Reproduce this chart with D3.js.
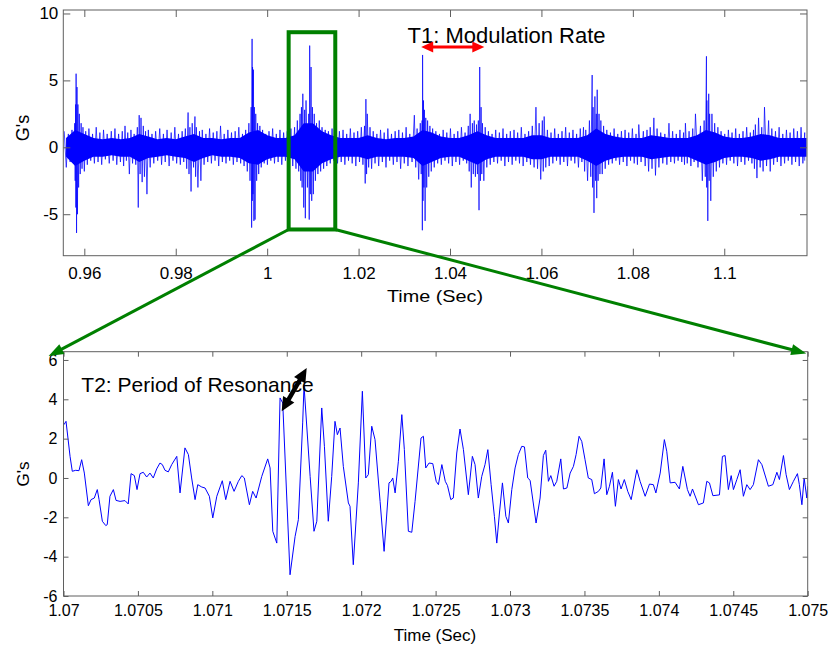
<!DOCTYPE html>
<html>
<head>
<meta charset="utf-8">
<script src="https://cdn.jsdelivr.net/npm/d3@7"></script>
<style>
  body { margin: 0; background: #fff; }
  text { font-family: "Liberation Sans", Arial, Helvetica, sans-serif; fill: #000; }
</style>
</head>
<body>
<svg id="chart" width="832" height="654"></svg>
<script>
// ---------- top panel: overview signal (0.955 .. 1.118 s) ----------
var topXTicks = [0.96, 0.98, 1.0, 1.02, 1.04, 1.06, 1.08, 1.1];
var topXLabels = ["0.96", "0.98", "1", "1.02", "1.04", "1.06", "1.08", "1.1"];
var topYTicks = [-5, 0, 5, 10];
var topYLabels = ["-5", "0", "5", "10"];

// dense core of the trace, read every 2 ms starting at 0.956 s
var coreStart = 0.956, coreStep = 0.002;
var coreHi = [0.7,1.3,1.0,0.7,0.6,0.7,0.6,0.7,1.0,0.8,
  0.6,0.7,0.6,0.8,1.0,0.7,0.7,0.6,0.7,0.7,
  1.1,1.3,0.9,0.7,0.7,0.9,1.8,1.8,1.2,0.9,
  0.7,0.7,0.7,0.9,0.7,0.6,0.7,0.7,0.8,1.3,
  1.1,0.8,0.7,0.7,0.9,1.2,0.9,0.7,0.7,0.7,
  0.7,0.9,0.9,0.7,0.7,0.7,0.7,0.9,1.4,1.0,
  0.8,0.7,0.7,0.7,0.9,0.8,0.7,0.7,0.7,0.9,
  1.3,1.1,0.8,0.7,0.7,0.8,1.0,0.9,0.7,0.7,
  0.7,0.7];
var coreLo = [-0.7,-1.4,-1.0,-0.7,-0.7,-0.6,-0.7,-0.7,-1.1,-0.8,
  -0.7,-0.6,-0.7,-0.8,-1.1,-0.8,-0.6,-0.7,-0.7,-0.8,
  -1.2,-1.3,-0.9,-0.7,-0.7,-0.9,-1.8,-1.8,-1.2,-0.9,
  -0.7,-0.7,-0.7,-0.9,-0.7,-0.7,-0.7,-0.7,-0.8,-1.4,
  -1.1,-0.8,-0.7,-0.7,-1.0,-1.3,-0.9,-0.7,-0.7,-0.7,
  -0.7,-0.9,-0.9,-0.7,-0.7,-0.7,-0.7,-1.0,-1.4,-1.0,
  -0.8,-0.7,-0.7,-0.7,-0.9,-0.8,-0.7,-0.7,-0.7,-1.0,
  -1.3,-1.1,-0.8,-0.7,-0.7,-0.8,-1.0,-0.9,-0.7,-0.7,
  -0.7,-0.7];

// individual excursions (time, positive tip, negative tip)
var needleT = [0.9556,0.9565,0.9573,0.9579,0.9581,0.9582,0.9584,0.9586,0.9589,0.9593,
  0.9597,0.9603,0.9610,0.9618,0.9626,0.9634,0.9642,0.9650,0.9659,0.9667,
  0.9675,0.9683,0.9689,0.9695,0.9702,0.9709,0.9716,0.9720,0.9724,0.9729,
  0.9734,0.9740,0.9748,0.9756,0.9765,0.9773,0.9781,0.9790,0.9798,0.9806,
  0.9814,0.9821,0.9827,0.9831,0.9836,0.9842,0.9845,0.9852,0.9858,0.9866,
  0.9874,0.9882,0.9890,0.9898,0.9906,0.9914,0.9922,0.9930,0.9938,0.9946,
  0.9953,0.9960,0.9965,0.9967,0.9968,0.9970,0.9972,0.9975,0.9979,0.9984,
  0.9990,0.9997,1.0004,1.0012,1.0020,1.0028,1.0036,1.0044,1.0052,1.0060,
  1.0066,1.0072,1.0075,1.0078,1.0082,1.0085,1.0091,1.0093,1.0096,1.0099,
  1.0103,1.0108,1.0114,1.0120,1.0127,1.0134,1.0142,1.0150,1.0158,1.0166,
  1.0174,1.0182,1.0190,1.0198,1.0206,1.0213,1.0216,1.0219,1.0225,1.0232,
  1.0240,1.0248,1.0256,1.0264,1.0272,1.0280,1.0288,1.0296,1.0304,1.0312,
  1.0322,1.0328,1.0335,1.0339,1.0340,1.0342,1.0344,1.0347,1.0351,1.0356,
  1.0362,1.0369,1.0377,1.0385,1.0393,1.0401,1.0409,1.0417,1.0425,1.0433,
  1.0440,1.0444,1.0449,1.0453,1.0458,1.0462,1.0465,1.0468,1.0471,1.0477,
  1.0484,1.0492,1.0500,1.0508,1.0516,1.0524,1.0532,1.0540,1.0548,1.0556,
  1.0564,1.0572,1.0580,1.0588,1.0595,1.0602,1.0606,1.0613,1.0621,1.0629,
  1.0637,1.0645,1.0653,1.0661,1.0669,1.0677,1.0685,1.0692,1.0697,1.0705,
  1.0711,1.0713,1.0717,1.0720,1.0722,1.0726,1.0730,1.0736,1.0743,1.0751,
  1.0759,1.0767,1.0775,1.0783,1.0791,1.0799,1.0807,1.0813,1.0823,1.0831,
  1.0838,1.0846,1.0853,1.0861,1.0870,1.0879,1.0887,1.0895,1.0903,1.0911,
  1.0915,1.0923,1.0931,1.0937,1.0948,1.0956,1.0961,1.0962,1.0966,1.0968,
  1.0973,1.0979,1.0986,1.0993,1.1001,1.1009,1.1017,1.1025,1.1033,1.1041,
  1.1049,1.1057,1.1064,1.1068,1.1075,1.1082,1.1088,1.1097,1.1104,1.1112,
  1.1120,1.1128,1.1136,1.1144,1.1152,1.1160,1.1168,1.1176];
var needleHi = [1.2,1.0,1.3,1.8,3.2,5.5,4.5,3.2,2.5,1.8,
  1.5,1.2,1.4,1.0,1.5,1.1,1.3,1.0,1.2,1.4,
  1.0,1.2,1.6,1.1,1.3,1.0,1.5,2.4,2.2,1.6,
  1.2,1.3,1.0,1.2,1.4,1.0,1.3,1.1,1.5,1.0,
  1.2,1.4,2.6,1.5,1.8,2.3,1.5,1.2,1.3,1.0,
  1.4,1.1,1.2,1.6,1.0,1.3,1.1,1.2,1.5,1.0,
  1.3,1.8,3.0,8.1,6.0,5.8,3.0,2.5,1.8,1.6,
  1.3,1.0,1.2,1.4,1.0,1.3,1.1,1.2,1.4,1.5,
  2.0,2.5,3.0,4.0,2.8,3.5,2.5,7.6,6.0,3.0,
  2.5,1.8,2.0,1.5,1.3,1.2,1.4,1.0,1.2,1.3,
  1.0,1.4,1.1,1.2,1.5,1.6,3.6,2.5,1.5,1.2,
  1.0,1.3,1.1,1.4,1.0,1.2,1.3,1.1,1.5,1.0,
  2.4,1.4,1.8,2.0,6.9,3.5,2.8,2.2,2.0,1.6,
  1.4,1.2,1.0,1.3,1.1,1.4,1.0,1.2,1.5,1.1,
  1.6,2.5,1.8,2.0,1.7,2.0,6.0,3.0,1.8,1.5,
  1.2,1.0,1.3,1.1,1.4,1.0,1.2,1.3,1.1,1.5,
  1.0,1.2,1.6,3.0,1.8,2.0,2.3,1.3,1.1,1.4,
  1.0,1.2,1.5,1.1,1.3,1.0,1.4,1.5,1.3,2.0,
  5.4,3.0,3.8,2.5,4.3,2.5,2.0,1.6,1.3,1.1,
  1.4,1.0,1.2,1.3,1.1,1.4,1.0,1.7,1.2,1.3,
  1.5,2.2,1.4,1.1,1.0,1.8,1.2,1.0,1.3,1.1,
  1.8,1.2,1.4,2.5,1.6,2.0,6.8,3.5,4.0,2.5,
  2.5,1.8,1.5,1.2,1.0,1.3,1.1,1.4,1.0,1.2,
  1.5,1.1,1.3,1.7,2.2,1.5,3.0,2.0,1.4,1.2,
  1.5,1.0,1.3,1.1,1.4,1.2,1.5,1.1];
var needleLo = [-1.5,-1.1,-1.0,-2.5,-4.5,-6.4,-5.0,-3.0,-2.0,-1.6,
  -1.8,-1.3,-1.0,-1.2,-1.1,-1.3,-0.9,-1.2,-1.0,-1.3,
  -1.1,-1.4,-1.0,-2.0,-1.2,-1.3,-4.5,-2.0,-2.6,-2.2,
  -3.5,-1.5,-1.2,-1.0,-1.3,-1.1,-1.4,-1.0,-1.2,-1.3,
  -1.1,-1.6,-2.0,-3.3,-1.5,-2.2,-3.0,-2.5,-1.3,-1.1,
  -1.2,-1.0,-1.4,-1.1,-1.2,-1.0,-1.3,-1.1,-1.2,-1.4,
  -1.8,-2.5,-6.0,-4.0,-3.5,-5.5,-5.4,-2.5,-2.0,-1.5,
  -1.2,-1.3,-1.0,-1.2,-1.1,-1.3,-1.0,-1.2,-1.4,-1.6,
  -1.8,-2.5,-3.0,-4.5,-5.3,-3.0,-5.4,-3.5,-4.0,-3.5,
  -2.5,-2.0,-1.8,-1.6,-1.4,-1.2,-1.0,-1.2,-1.1,-1.3,
  -1.0,-1.2,-1.4,-1.1,-1.3,-2.7,-2.0,-1.5,-1.6,-1.2,
  -1.4,-1.1,-1.5,-1.0,-1.3,-1.1,-1.6,-1.2,-1.4,-1.1,
  -1.5,-2.4,-2.0,-6.2,-4.0,-3.0,-5.5,-3.0,-2.2,-1.8,
  -1.5,-1.2,-1.3,-1.0,-1.2,-1.4,-1.1,-1.3,-1.0,-1.2,
  -1.8,-3.0,-2.0,-2.2,-2.0,-4.7,-2.5,-2.0,-2.5,-1.5,
  -1.3,-1.1,-1.2,-1.0,-1.4,-1.1,-1.3,-1.0,-1.2,-1.4,
  -1.1,-1.3,-1.5,-1.6,-2.4,-1.8,-1.5,-1.4,-1.2,-1.0,
  -1.3,-1.1,-1.4,-1.0,-1.2,-1.5,-1.1,-1.8,-2.5,-2.2,
  -3.0,-4.9,-2.5,-3.8,-2.5,-2.0,-2.0,-1.6,-1.3,-1.2,
  -1.0,-1.3,-1.1,-1.4,-1.0,-1.2,-1.3,-1.1,-1.4,-1.8,
  -1.6,-2.1,-1.5,-1.2,-1.3,-1.1,-1.2,-1.0,-1.1,-1.3,
  -1.2,-1.4,-1.1,-1.5,-2.5,-2.2,-3.0,-5.5,-2.5,-4.0,
  -2.2,-1.8,-1.5,-1.2,-1.3,-1.0,-1.2,-1.4,-1.1,-1.3,
  -1.0,-1.2,-1.6,-2.3,-1.5,-1.8,-1.4,-1.8,-1.3,-1.1,
  -1.4,-1.2,-1.0,-1.3,-1.1,-1.4,-1.2,-1.0];

// ---------- bottom panel: zoom 1.070 .. 1.075 s ----------
var botXTicks = [1.07, 1.0705, 1.071, 1.0715, 1.072, 1.0725, 1.073, 1.0735, 1.074, 1.0745, 1.075];
var botXLabels = ["1.07", "1.0705", "1.071", "1.0715", "1.072", "1.0725", "1.073", "1.0735", "1.074", "1.0745", "1.075"];
var botYTicks = [-6, -4, -2, 0, 2, 4, 6];
var botYLabels = ["-6", "-4", "-2", "0", "2", "4", "6"];

// sample times in microseconds after 1.07 s, and G values
var botUs = [3,17,44,59,82,104,122,140,167,185,
  207,227,239,261,284,294,312,335,353,380,
  413,435,454,476,494,514,536,559,581,603,
  626,648,664,682,704,727,761,783,816,839,
  861,884,902,929,951,980,1003,1030,1067,1090,
  1119,1146,1175,1198,1215,1249,1271,1294,1332,1372,
  1388,1406,1433,1455,1473,1522,1556,1578,1607,1616,
  1657,1683,1702,1735,1753,1779,1802,1824,1840,1858,
  1880,1914,1925,1947,1981,2008,2031,2048,2071,2093,
  2127,2154,2187,2201,2212,2228,2250,2273,2290,2317,
  2340,2362,2402,2418,2434,2456,2481,2504,2519,2542,
  2565,2580,2602,2619,2642,2664,2687,2720,2747,2765,
  2787,2810,2832,2851,2873,2895,2911,2929,2949,2972,
  2989,3012,3034,3056,3079,3097,3119,3135,3175,3202,
  3224,3240,3258,3274,3296,3314,3341,3359,3382,3404,
  3426,3444,3464,3482,3504,3526,3549,3567,3594,3610,
  3632,3650,3668,3688,3708,3728,3746,3768,3791,3814,
  3852,3874,3908,3937,3963,3980,4009,4037,4053,4076,
  4109,4138,4161,4192,4210,4226,4266,4299,4322,4340,
  4363,4407,4427,4445,4467,4486,4501,4524,4546,4568,
  4591,4613,4635,4669,4692,4736,4766,4793,4810,4837,
  4855,4877,4904,4931,4944,4961,4976,4994,5000];
var botG = [2.71,2.88,1.10,0.34,0.39,0.37,0.93,0.25,-1.41,-1.10,
  -1.02,-0.59,-1.10,-2.20,-2.42,-2.37,-0.93,-0.59,-1.14,-1.19,
  -1.15,-1.32,0.22,0.12,-0.59,0.22,0.29,0.05,0.25,0.00,
  0.46,0.76,0.68,0.39,0.31,0.68,1.10,-0.76,1.53,1.19,
  0.00,-1.10,-0.34,-0.46,-0.51,-0.93,-2.03,-0.93,-0.14,-1.10,
  -0.17,-0.68,-0.17,0.12,0.00,-1.36,-0.68,-1.02,0.08,0.97,
  0.51,-2.71,-3.31,4.07,3.81,-4.92,-2.97,-2.12,2.80,4.70,
  0.08,-2.71,-2.20,3.56,1.61,-2.20,0.08,2.88,2.20,2.54,
  0.59,-1.27,-1.44,-4.41,-0.25,4.41,0.00,0.17,2.63,1.95,
  -1.19,-3.73,-0.25,-0.17,0.00,-0.76,0.85,3.22,1.44,-2.71,
  -2.76,-1.19,2.03,2.12,0.51,0.76,0.73,-0.17,-0.34,0.68,
  -0.17,-0.39,-1.10,-1.02,1.27,2.49,1.44,-0.85,1.10,0.68,
  -1.02,0.08,0.68,1.44,-0.34,-1.95,-3.31,-1.78,-0.25,-1.95,
  -2.29,-0.59,0.51,1.19,1.61,1.58,0.00,-0.12,-2.29,-1.02,
  1.14,1.41,-0.17,0.12,-0.42,-0.17,0.97,-0.56,-0.51,0.25,
  0.59,1.19,2.12,1.86,0.93,0.00,-0.08,-0.80,-0.68,-0.51,
  0.97,-0.85,-0.42,0.29,-1.44,-0.08,-0.56,-0.08,-0.68,-1.10,
  0.42,-0.17,-0.93,-0.31,-0.34,-0.76,0.25,1.95,1.36,-0.25,
  -0.22,-0.56,0.59,-0.59,-0.93,-0.56,-1.36,-1.27,-0.17,-0.25,
  -0.90,-0.86,1.10,1.14,-0.59,0.12,-0.59,-0.08,0.42,-0.93,
  -0.34,-0.59,-0.34,0.93,0.68,-0.42,-0.34,0.29,-0.08,1.14,
  0.17,-0.59,-0.17,0.22,-0.34,-1.36,0.00,-1.02,-0.42];

var blue = "#0000ff", green = "#008000", axisGrey = "#5f5f5f";

var svg = d3.select("#chart");
svg.append("rect").attr("width", 832).attr("height", 654).attr("fill", "#fff");

var xT = d3.scaleLinear().domain([0.9554, 1.1181]).range([63.3, 807]);
var yT = d3.scaleLinear().domain([-8.1, 10.26]).range([255.7, 10]);
var xB = d3.scaleLinear().domain([1.07, 1.075]).range([63.5, 807.7]);
var yB = d3.scaleLinear().domain([-6, 6.42]).range([596, 351.7]);

// axes frame with ticks on all four sides, pointing inward
function frame(x, y, o) {
  var g = svg.append("g");
  var x0 = x.range()[0], x1 = x.range()[1], y0 = y.range()[0], y1 = y.range()[1];
  function tidy(sel) {
    sel.select(".domain").remove();
    sel.selectAll("line").attr("stroke", axisGrey);
    sel.selectAll("text").attr("font-family", null).style("font-size", o.font + "px");
  }
  g.append("g").attr("transform", "translate(0," + y0 + ")")
    .call(d3.axisBottom(x).tickValues(o.xTicks).tickFormat(function (d, i) { return o.xLabels[i]; })
      .tickSizeInner(-o.tick).tickSizeOuter(0).tickPadding(o.xPad)).call(tidy);
  g.append("g").attr("transform", "translate(0," + y1 + ")")
    .call(d3.axisTop(x).tickValues(o.xTicks).tickFormat("").tickSizeInner(-o.tick).tickSizeOuter(0)).call(tidy);
  g.append("g").attr("transform", "translate(" + x0 + ",0)")
    .call(d3.axisLeft(y).tickValues(o.yTicks).tickFormat(function (d, i) { return o.yLabels[i]; })
      .tickSizeInner(-o.tick).tickSizeOuter(0).tickPadding(o.yPad)).call(tidy);
  g.append("g").attr("transform", "translate(" + x1 + ",0)")
    .call(d3.axisRight(y).tickValues(o.yTicks).tickFormat("").tickSizeInner(-o.tick).tickSizeOuter(0)).call(tidy);
  g.append("rect").attr("x", x0).attr("y", y1).attr("width", x1 - x0).attr("height", y0 - y1)
    .attr("fill", "none").attr("stroke", axisGrey).attr("stroke-width", 1);
  return g;
}

function clip(id, x, y) {
  svg.append("clipPath").attr("id", id).append("rect")
    .attr("x", x.range()[0]).attr("y", y.range()[1])
    .attr("width", x.range()[1] - x.range()[0]).attr("height", y.range()[0] - y.range()[1]);
}
clip("clipTop", xT, yT);
clip("clipBot", xB, yB);

// ---- top trace
var topG = svg.append("g").attr("clip-path", "url(#clipTop)");
topG.append("path")
  .datum(coreHi.map(function (v, i) { return [coreStart + i * coreStep, v, coreLo[i]]; }))
  .attr("fill", blue)
  .attr("d", d3.area().x(function (d) { return xT(d[0]); }).y0(function (d) { return yT(d[2]); }).y1(function (d) { return yT(d[1]); }));

var zig = [];
needleT.forEach(function (t, i) {
  var next = i < needleT.length - 1 ? needleT[i + 1] : t;
  zig.push([t, needleHi[i]]);
  zig.push([(t + next) / 2, needleLo[i]]);
});
topG.append("path").datum(zig)
  .attr("fill", "none").attr("stroke", blue).attr("stroke-width", 0.9).attr("stroke-opacity", 0.8)
  .attr("d", d3.line().x(function (d) { return xT(d[0]); }).y(function (d) { return yT(d[1]); }));

frame(xT, yT, { xTicks: topXTicks, xLabels: topXLabels, yTicks: topYTicks, yLabels: topYLabels,
  tick: 7, xPad: 11, yPad: 5, font: 17 });

svg.append("text").attr("x", 435).attr("y", 302).attr("text-anchor", "middle")
  .attr("textLength", 96).attr("lengthAdjust", "spacingAndGlyphs")
  .style("font-size", "17px").text("Time (Sec)");
svg.append("text").attr("transform", "translate(23,128) rotate(-90)").attr("text-anchor", "middle")
  .attr("dy", "0.35em").style("font-size", "18px").text("G's");

// ---- bottom trace
var botG2 = svg.append("g").attr("clip-path", "url(#clipBot)");
botG2.append("path")
  .datum(botUs.map(function (u, i) { return [1.07 + u * 1e-6, botG[i]]; }))
  .attr("fill", "none").attr("stroke", blue).attr("stroke-width", 1)
  .attr("d", d3.line().x(function (d) { return xB(d[0]); }).y(function (d) { return yB(d[1]); }));

frame(xB, yB, { xTicks: botXTicks, xLabels: botXLabels, yTicks: botYTicks, yLabels: botYLabels,
  tick: 5, xPad: 9, yPad: 6, font: 16 });

svg.append("text").attr("x", 435).attr("y", 641).attr("text-anchor", "middle")
  .style("font-size", "17px").text("Time (Sec)");
svg.append("text").attr("transform", "translate(23,474) rotate(-90)").attr("text-anchor", "middle")
  .attr("dy", "0.35em").style("font-size", "17px").text("G's");

// ---- annotations
function arrow(p1, p2, color, width, headLen, headWid, both) {
  var dx = p2[0] - p1[0], dy = p2[1] - p1[1], L = Math.sqrt(dx * dx + dy * dy);
  var ux = dx / L, uy = dy / L;
  var s = both ? [p1[0] + ux * headLen * 0.7, p1[1] + uy * headLen * 0.7] : p1;
  var e = [p2[0] - ux * headLen * 0.7, p2[1] - uy * headLen * 0.7];
  svg.append("line").attr("x1", s[0]).attr("y1", s[1]).attr("x2", e[0]).attr("y2", e[1])
    .attr("stroke", color).attr("stroke-width", width);
  function head(tip, vx, vy) {
    var bx = tip[0] - vx * headLen, by = tip[1] - vy * headLen;
    var px = -vy * headWid / 2, py = vx * headWid / 2;
    svg.append("path").attr("d", "M" + tip[0] + "," + tip[1] + "L" + (bx + px) + "," + (by + py) + "L" + (bx - px) + "," + (by - py) + "Z")
      .attr("fill", color);
  }
  head(p2, ux, uy);
  if (both) head(p1, -ux, -uy);
}

// zoom window in the top panel
svg.append("rect")
  .attr("x", xT(1.0047)).attr("y", yT(8.6))
  .attr("width", xT(1.0149) - xT(1.0047)).attr("height", yT(-6.14) - yT(8.6))
  .attr("fill", "none").attr("stroke", green).attr("stroke-width", 4);

arrow([xT(1.0047), yT(-6.14)], [xB(1.0699), yB(6.2)], green, 3, 15, 11, false);
arrow([xT(1.0149), yT(-6.14)], [xB(1.07499), yB(6.33)], green, 3, 15, 11, false);

svg.append("text").attr("x", xT(1.0307)).attr("y", yT(7.8))
  .style("font-size", "22px").text("T1: Modulation Rate");
arrow([xT(1.0337), yT(7.5)], [xT(1.0475), yT(7.5)], "#ff0000", 3, 12, 11, true);

svg.append("text").attr("x", xB(1.07012)).attr("y", yB(4.35))
  .style("font-size", "21px").text("T2: Period of Resonance");
arrow([xB(1.071466), yB(3.39)], [xB(1.071634), yB(5.59)], "#000", 4.5, 14, 13, true);
</script>
</body>
</html>
